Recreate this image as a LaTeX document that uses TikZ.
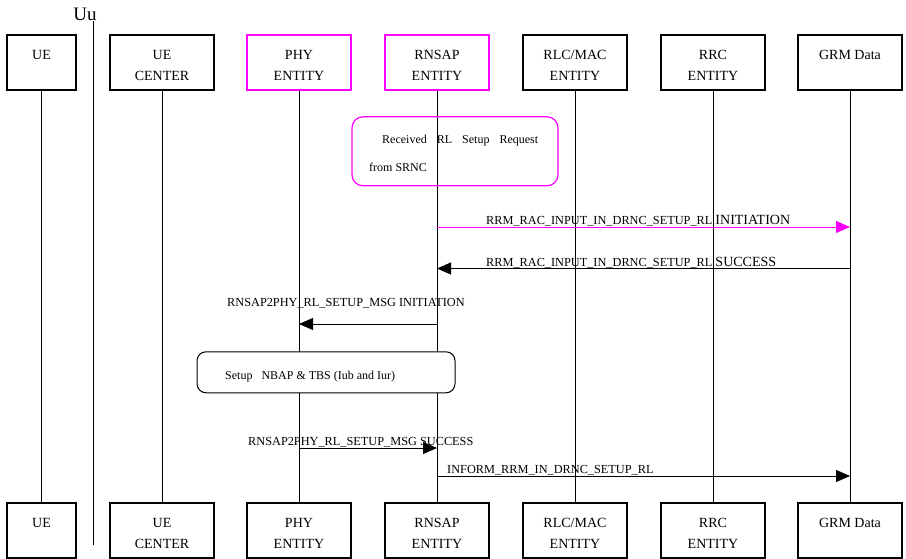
\documentclass[tikz,border=0pt]{standalone}
\usepackage{fontspec}
\setmainfont{Liberation Serif}
\usetikzlibrary{arrows.meta}
\definecolor{entmag}{RGB}{255,0,255}
\newcommand{\entxt}[2]{\rule{0pt}{15pt}#1\\#2}

\begin{document}
\begin{tikzpicture}[x=1pt,y=-1pt,
		ent/.style={draw,line width=1.2pt,minimum width=104pt,minimum height=55pt,inner sep=0pt,align=center,font=\fontsize{14}{21}\selectfont},
		life/.style={line width=0.9pt},
		msg/.style={line width=0.9pt,-{Triangle[length=14pt,width=12pt]}},
		lbl/.style={anchor=base west,inner sep=0pt,font=\fontsize{12}{14}\selectfont},
		mlbl/.style={lbl,font=\fontsize{12.3}{14}\selectfont}]
	\useasboundingbox (0,0) rectangle (906,559);
	% entities, top and bottom
	\node[ent,minimum width=69pt](ueT) at (41.5,62.5){\entxt{UE}{~}};
	\node[ent](uecT) at (162,62.5){\entxt{UE}{CENTER}};
	\node[ent,draw=entmag](phyT) at (299,62.5){\entxt{PHY}{ENTITY}};
	\node[ent,draw=entmag](rnsapT) at (437,62.5){\entxt{RNSAP}{ENTITY}};
	\node[ent](rlcT) at (575,62.5){\entxt{RLC/MAC}{ENTITY}};
	\node[ent](rrcT) at (713,62.5){\entxt{RRC}{ENTITY}};
	\node[ent](grmT) at (850,62.5){\entxt{GRM Data}{~}};
	\node[ent,minimum width=69pt](ueB) at (41.5,530.5){\entxt{UE}{~}};
	\node[ent](uecB) at (162,530.5){\entxt{UE}{CENTER}};
	\node[ent](phyB) at (299,530.5){\entxt{PHY}{ENTITY}};
	\node[ent](rnsapB) at (437,530.5){\entxt{RNSAP}{ENTITY}};
	\node[ent](rlcB) at (575,530.5){\entxt{RLC/MAC}{ENTITY}};
	\node[ent](rrcB) at (713,530.5){\entxt{RRC}{ENTITY}};
	\node[ent](grmB) at (850,530.5){\entxt{GRM Data}{~}};
	% lifelines
	\foreach \e in {ue,uec,phy,rnsap,rlc,rrc,grm}
		\draw[life](\e T.south)--(\e B.north);
	% Uu interface
	\coordinate(uuA) at (93,21);
	\coordinate(uuB) at (93,545);
	\draw[life](uuA)--(uuB);
	\node[font=\fontsize{19}{21}\selectfont](uu) at (85,14){Uu};
	% note from SRNC
	\node[draw=entmag,line width=1.2pt,rounded corners=11pt,minimum width=206pt,minimum height=69pt](srnc) at (455,151.3){};
	\node[lbl](srncA) at (382,144){Received\hspace{10pt}RL\hspace{10pt}Setup\hspace{10pt}Request};
	\node[lbl](srncB) at (369,172){from SRNC};
	% messages
	\coordinate(y1) at (0,227);
	\coordinate(y2) at (0,268.5);
	\coordinate(y3) at (0,324);
	\coordinate(y4) at (0,448);
	\coordinate(y5) at (0,476);
	\draw[msg,entmag](rnsapT|-y1)--(grmT|-y1);
	\node[mlbl](m1) at (486,224.5){RRM\_RAC\_INPUT\_IN\_DRNC\_SETUP\_RL {\fontsize{14}{16}\selectfont INITIATION}};
	\draw[msg](grmT|-y2)--(rnsapT|-y2);
	\node[mlbl](m2) at (486,266){RRM\_RAC\_INPUT\_IN\_DRNC\_SETUP\_RL {\fontsize{14}{16}\selectfont SUCCESS}};
	\draw[msg](rnsapT|-y3)--(phyT|-y3);
	\node[mlbl](m3) at (227,306){RNSAP2PHY\_RL\_SETUP\_MSG INITIATION};
	% NBAP setup
	\node[draw,fill=white,line width=1pt,rounded corners=9pt,minimum width=258pt,minimum height=41pt](nbap) at (326,372.3){};
	\node[lbl](nbapT) at (225,379){Setup\hspace{9pt}NBAP \& TBS (Iub and Iur)};
	\draw[msg](phyT|-y4)--(rnsapT|-y4);
	\node[mlbl](m4) at (248,445.5){RNSAP2PHY\_RL\_SETUP\_MSG SUCCESS};
	\draw[msg](rnsapT|-y5)--(grmT|-y5);
	\node[mlbl](m5) at (447,473){INFORM\_RRM\_IN\_DRNC\_SETUP\_RL};
\end{tikzpicture}
\end{document}
